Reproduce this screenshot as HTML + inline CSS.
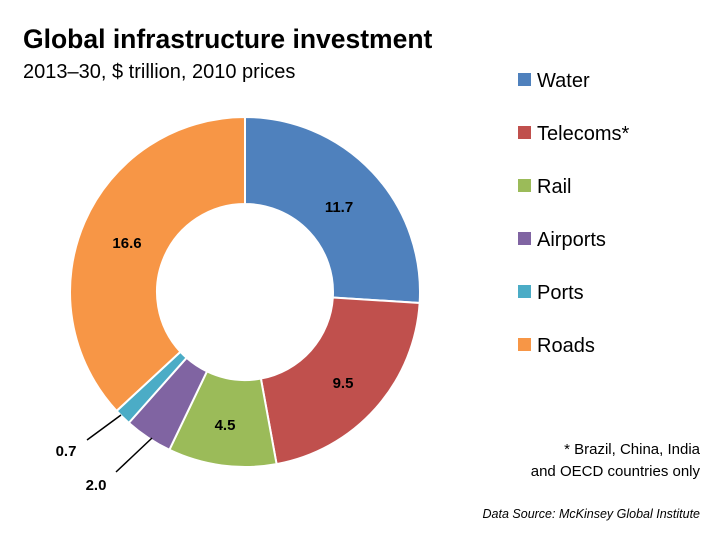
<!DOCTYPE html>
<html><head><meta charset="utf-8"><style>
body{margin:0;background:#fff;width:709px;height:540px;overflow:hidden;font-family:"Liberation Sans",sans-serif;}
</style></head><body>
<svg id="s" width="709" height="540" xmlns="http://www.w3.org/2000/svg" font-family="Liberation Sans, sans-serif">
<text x="23" y="48" font-size="26.5" font-weight="bold" fill="#000">Global infrastructure investment</text>
<text x="23" y="78" font-size="20" fill="#000">2013–30, $ trillion, 2010 prices</text>
<g id="pie"></g>
<g font-size="15" font-weight="bold" fill="#000" text-anchor="middle">
<text x="339" y="212">11.7</text>
<text x="343" y="388">9.5</text>
<text x="225" y="430">4.5</text>
<text x="127" y="248">16.6</text>
<text x="66" y="456">0.7</text>
<text x="96" y="490">2.0</text>
</g>
<line x1="87" y1="440" x2="121" y2="415" stroke="#000" stroke-width="1.5"/>
<line x1="116" y1="472" x2="152" y2="438" stroke="#000" stroke-width="1.5"/>
<g font-size="20" fill="#000">
<rect x="518" y="73" width="13" height="13" fill="#4F81BD"/><text x="537" y="87">Water</text>
<rect x="518" y="126" width="13" height="13" fill="#C0504D"/><text x="537" y="140">Telecoms*</text>
<rect x="518" y="179" width="13" height="13" fill="#9BBB59"/><text x="537" y="193">Rail</text>
<rect x="518" y="232" width="13" height="13" fill="#8064A2"/><text x="537" y="246">Airports</text>
<rect x="518" y="285" width="13" height="13" fill="#4BACC6"/><text x="537" y="299">Ports</text>
<rect x="518" y="338" width="13" height="13" fill="#F79646"/><text x="537" y="352">Roads</text>
</g>
<g font-size="15" fill="#000" text-anchor="end">
<text x="700" y="454">* Brazil, China, India</text>
<text x="700" y="476">and OECD countries only</text>
</g>
<text x="700" y="518" font-size="12.5" font-style="italic" text-anchor="end" fill="#000">Data Source: McKinsey Global Institute</text>
</svg>
<script>
var v=[11.7,9.5,4.5,2.0,0.7,16.6],c=["#4F81BD","#C0504D","#9BBB59","#8064A2","#4BACC6","#F79646"];
var cx=245,cy=292,R=175,r=88,t=45,a=0,h="";
function p(rad,ang){return [cx+rad*Math.sin(ang),cy-rad*Math.cos(ang)];}
for(var i=0;i<v.length;i++){var a0=a/t*2*Math.PI;a+=v[i];var a1=a/t*2*Math.PI;var l=(a1-a0)>Math.PI?1:0;
var A=p(R,a0),B=p(R,a1),C=p(r,a1),D=p(r,a0);
h+='<path d="M'+A+' A'+R+','+R+' 0 '+l+' 1 '+B+' L'+C+' A'+r+','+r+' 0 '+l+' 0 '+D+' Z" fill="'+c[i]+'" stroke="#fff" stroke-width="2"/>';}
document.getElementById("pie").innerHTML=h;
</script>
</body></html>
